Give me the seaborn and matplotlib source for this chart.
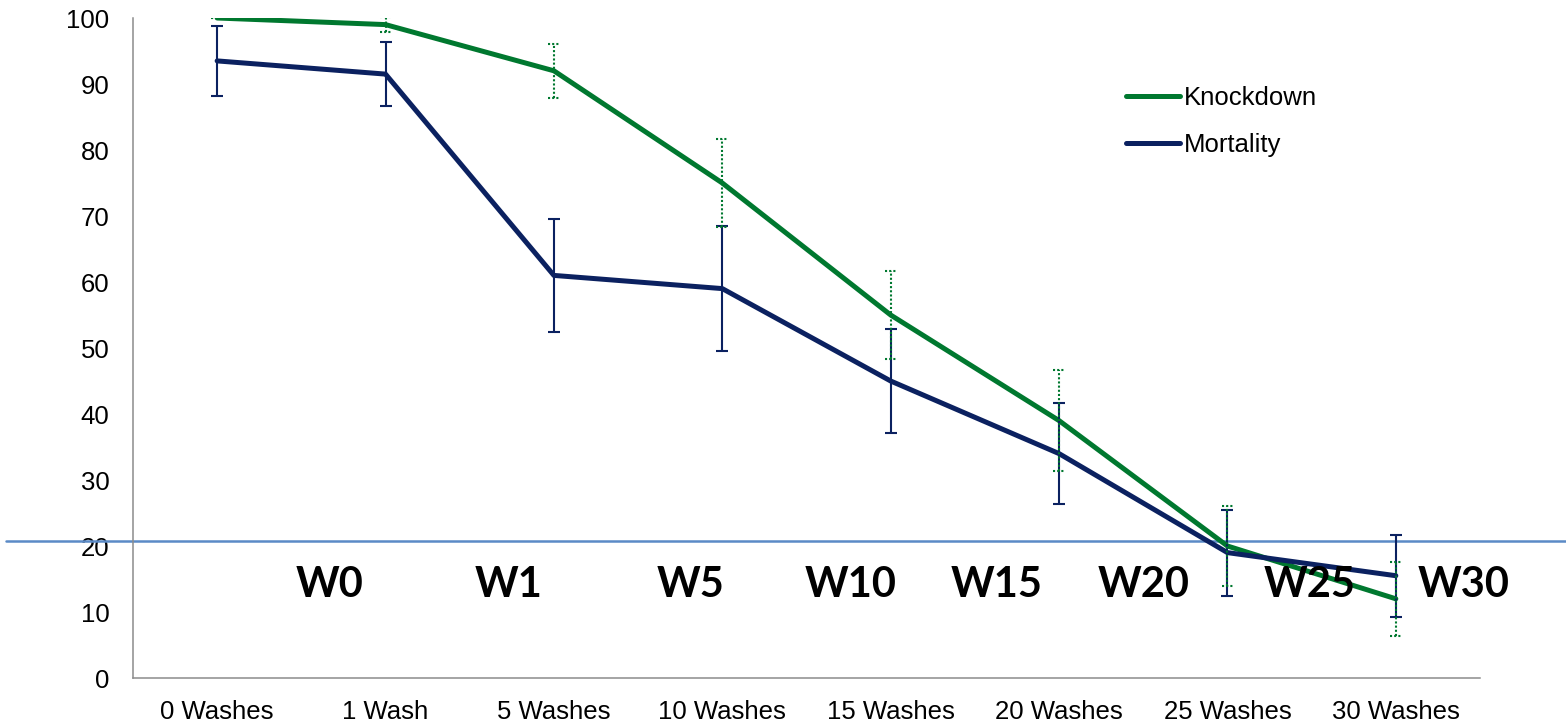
import numpy as np
import pandas as pd
import matplotlib
matplotlib.use("Agg")
import matplotlib.pyplot as plt
from matplotlib.lines import Line2D
import seaborn as sns

# Wash-resistance bioassay results (% of mosquitoes)
washes = ["0 Washes", "1 Wash", "5 Washes", "10 Washes",
          "15 Washes", "20 Washes", "25 Washes", "30 Washes"]
knockdown = [100.0, 99.0, 92.0, 75.0, 55.0, 39.0, 20.0, 12.0]
knockdown_err = [0.0, 1.1, 4.1, 6.7, 6.6, 7.7, 6.0, 5.6]
mortality = [93.5, 91.5, 61.0, 59.0, 45.0, 34.0, 19.0, 15.5]
mortality_err = [5.3, 4.8, 8.6, 9.5, 7.9, 7.7, 6.5, 6.2]
stage_labels = ["W0", "W1", "W5", "W10", "W15", "W20", "W25", "W30"]
threshold = 20.8

GREEN = "#00782F"
NAVY = "#0B2160"
LINE_BLUE = "#5B8AC6"
AXIS_GREY = "#8C8C8C"

sns.set_style("white")
plt.rcParams["font.family"] = ["Liberation Sans", "DejaVu Sans"]
plt.rcParams["text.color"] = "black"
plt.rcParams["xtick.color"] = "black"
plt.rcParams["ytick.color"] = "black"

pos = np.arange(len(washes))
df = pd.DataFrame({
    "pos": np.concatenate([pos, pos]),
    "value": knockdown + mortality,
    "series": ["Knockdown"] * len(washes) + ["Mortality"] * len(washes),
})

fig = plt.figure(figsize=(15.66, 7.26), dpi=100)
ax = fig.add_axes([0.0849, 0.0661, 0.8602, 0.9091])

sns.lineplot(data=df, x="pos", y="value", hue="series",
             palette={"Knockdown": GREEN, "Mortality": NAVY},
             linewidth=3.6, legend=False, sort=False, ax=ax, zorder=3)

# Mortality error bars: solid with caps
ax.errorbar(pos, mortality, yerr=mortality_err, fmt="none", ecolor=NAVY,
            elinewidth=1.5, capsize=4, capthick=1.5, zorder=4)

# Knockdown error bars: dotted, dotted caps
k = np.array(knockdown)
ke = np.array(knockdown_err)
cap = 0.035
dotted = (0, (1, 1))
ax.vlines(pos, k - ke, k + ke, colors=GREEN, linestyles=dotted, lw=1.5, zorder=4)
ax.hlines(k + ke, pos - cap, pos + cap, colors=GREEN, linestyles=dotted, lw=1.5, zorder=4)
ax.hlines(k - ke, pos - cap, pos + cap, colors=GREEN, linestyles=dotted, lw=1.5, zorder=4)

# Threshold line running across the whole figure width
ax.axhline(threshold, xmin=-0.094, xmax=1.07, color=LINE_BLUE, lw=1.8,
           clip_on=False, zorder=2)

# Wash-stage labels
stage_x = [0.67, 1.73, 2.81, 3.76, 4.63, 5.50, 6.49, 7.40]
for sx, lab in zip(stage_x, stage_labels):
    ax.text(sx, 14.1, lab, ha="center", va="center", fontsize=30,
            fontweight="bold", family=["Lato", "DejaVu Sans"], color="black",
            zorder=5, clip_on=False)

ax.set_xlim(-0.5, len(washes) - 0.5)
ax.set_ylim(0, 100)
ax.set_yticks(np.arange(0, 101, 10))
ax.set_xticks(pos)
ax.set_xticklabels(washes)
ax.set_xticks(np.arange(-0.5, len(washes), 1.0), minor=True)
ax.tick_params(axis="x", which="major", length=0, pad=16, labelsize=18.5)
ax.tick_params(axis="x", which="minor", length=7, width=1.1,
               color=AXIS_GREY, direction="out")
ax.tick_params(axis="y", length=7, width=1.1, color=AXIS_GREY,
               direction="out", labelsize=18.5, pad=10)
ax.set_xlabel("")
ax.set_ylabel("")

for side in ["top", "right"]:
    ax.spines[side].set_visible(False)
for side in ["left", "bottom"]:
    ax.spines[side].set_color(AXIS_GREY)
    ax.spines[side].set_linewidth(1.1)

handles = [Line2D([0], [0], color=GREEN, lw=3.6, solid_capstyle="round"),
           Line2D([0], [0], color=NAVY, lw=3.6, solid_capstyle="round")]
ax.legend(handles, ["Knockdown", "Mortality"], loc="upper left",
          bbox_to_anchor=(0.7375, 0.897), frameon=False, fontsize=18.5,
          handlelength=2.1, handletextpad=0.15, labelspacing=0.9,
          borderpad=0, borderaxespad=0)

fig.savefig("out.png", dpi=100)
